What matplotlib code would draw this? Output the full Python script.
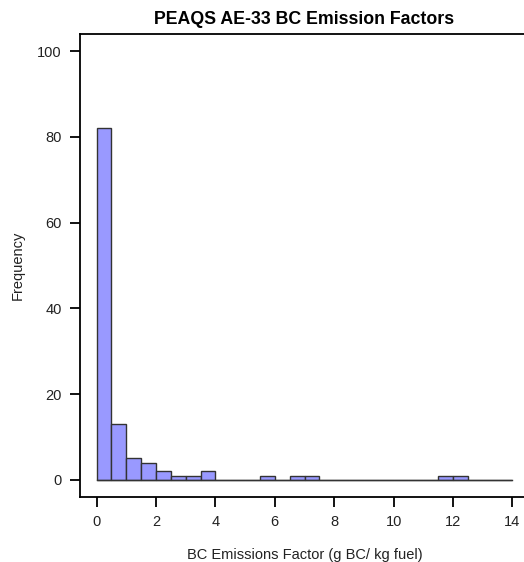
import matplotlib
matplotlib.use("Agg")
import matplotlib.pyplot as plt
import numpy as np

plt.rcParams['font.family'] = ['Liberation Sans', 'DejaVu Sans']

# Histogram bins (g BC / kg fuel), width 0.5 from 0 to 14
bin_edges = np.arange(0, 14.01, 0.5)
counts = [82, 13, 5, 4, 2, 1, 1, 2, 0, 0, 0, 1, 0, 1, 1, 0, 0, 0, 0, 0, 0, 0, 0, 1, 1, 0, 0, 0]
x_ticks = [0, 2, 4, 6, 8, 10, 12, 14]
y_ticks = [0, 20, 40, 60, 80, 100]
title = "PEAQS AE-33 BC Emission Factors"
xlabel = "BC Emissions Factor (g BC/ kg fuel)"
ylabel = "Frequency"

fig = plt.figure(figsize=(5.24, 5.62), dpi=100)
W, H = 524, 562
left, right, top, bottom = 80, 529, 34, 497
ax = fig.add_axes([left / W, 1 - bottom / H, (right - left) / W, (bottom - top) / H])

lefts = bin_edges[:-1]
ax.hist(lefts, bins=bin_edges, weights=counts, color='#9999ff',
        edgecolor='#333333', linewidth=1.0)
ax.plot([bin_edges[0], bin_edges[-1]], [0, 0], color='#333333', lw=1.0)

ax.set_xlim(-0.56, 14.56)
ax.set_ylim(-4, 104)
ax.set_xticks(x_ticks)
ax.set_yticks(y_ticks)
ax.tick_params(direction='out', length=7, width=1.3, labelsize=10.5, colors='black',
               labelcolor='#222222', pad=6)
for s in ax.spines.values():
    s.set_linewidth(1.3)

ax.set_title(title, fontsize=12.8, fontweight='bold', pad=7)
ax.set_xlabel(xlabel, fontsize=10.5, labelpad=14, color='#222222')
ax.set_ylabel(ylabel, fontsize=10.5, color='#222222')
ax.yaxis.set_label_coords((25 - left) / (right - left), 0.5)

fig.savefig("out.png", dpi=100)
